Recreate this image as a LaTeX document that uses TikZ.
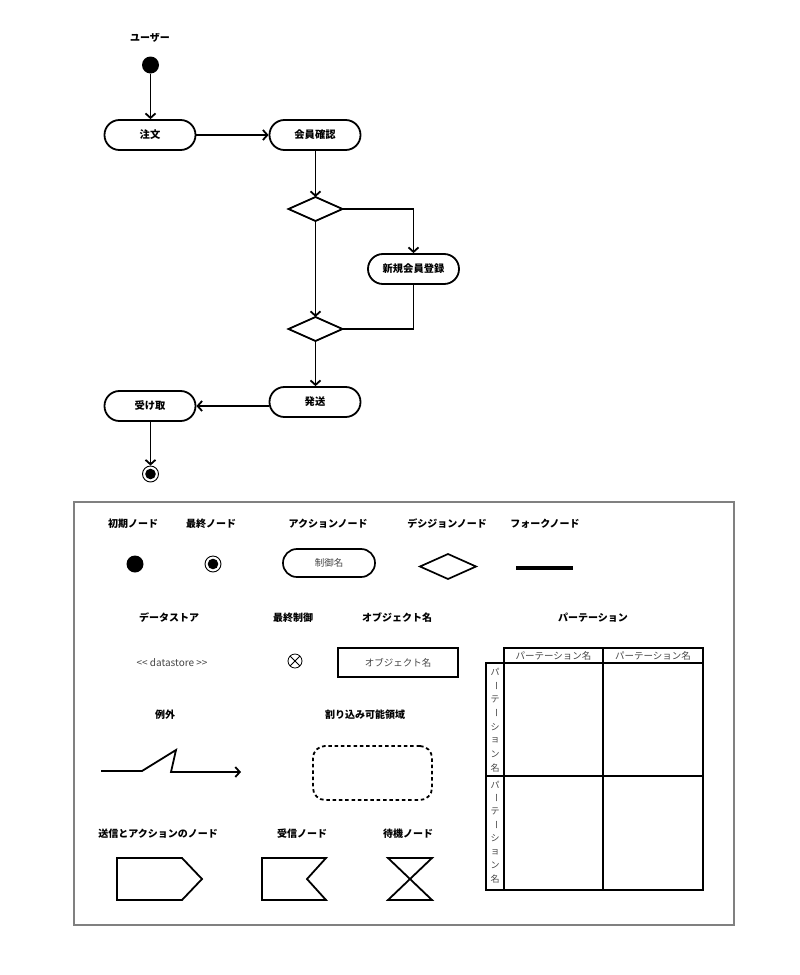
\documentclass[tikz,border=0pt]{standalone}
\usepackage{fontspec}
\setmainfont{Noto Sans CJK JP}
\newfontfamily\dsfont[Ligatures=TeXOff]{Noto Sans CJK JP}
\usetikzlibrary{arrows.meta,shapes.geometric}
\definecolor{txtgray}{HTML}{444444}
\begin{document}
\begin{tikzpicture}[x=1pt,y=-1pt,
  lbl/.style={font=\bfseries\fontsize{10}{12}\selectfont, inner sep=0pt},
  act/.style={draw, line width=1.8pt, rounded corners=14.9pt, minimum width=91pt, minimum height=30pt, inner sep=0pt, font=\bfseries\fontsize{10.3}{12}\selectfont},
  act2/.style={draw, line width=1.7pt, rounded corners=13.9pt, minimum width=92pt, minimum height=28pt, inner sep=0pt, font=\fontsize{9.5}{11}\selectfont, text=txtgray},
  dec/.style={draw, diamond, line width=1.8pt, minimum width=54pt, minimum height=24pt, inner sep=0pt, outer sep=0pt},
  initn/.style={circle, fill=black, minimum size=17pt, inner sep=0pt},
  finn/.style={circle, draw, line width=0.9pt, minimum size=16pt, inner sep=0pt,
     path picture={\fill (path picture bounding box.center) circle (5.3pt);}},
  arr/.style={line width=1.8pt, -{Straight Barb[length=4.5pt,width=10pt,line width=1.8pt]}},
  ln/.style={line width=1.8pt},
  txt/.style={font=\fontsize{9.5}{11}\selectfont, text=txtgray, inner sep=0pt},
  small/.style={font=\fontsize{9}{10}\selectfont, text=txtgray, inner sep=0pt}
]
\useasboundingbox (0,0) rectangle (800,975);

% ---------- flow ----------
\node[lbl] (user) at (150,38) {ユーザー};
\node[initn] (start) at (150.5,65) {};
\node[act] (order) at (150,135) {注文};
\node[act] (check) at (315,135) {会員確認};
\node[dec] (d1) at (315.5,209) {};
\node[act] (reg) at (413.5,269) {新規会員登録};
\node[dec] (d2) at (315.5,329) {};
\node[act] (ship) at (315,402) {発送};
\node[act] (recv) at (150,406) {受け取};
\node[finn] (end) at (150.5,474) {};

\draw[arr] (start) -- (order.north -| start);
\draw[arr] (order) -- (check);
\draw[arr] (check.south -| d1) -- (d1.north);
\draw[arr] (d1.east) -| (reg.north);
\draw[arr] (d1.south) -- (d2.north);
\draw[ln] (reg.south) |- (d2.east);
\draw[arr] (d2.south) -- (ship.north -| d2);
\draw[arr] (ship.west |- recv.east) -- (recv.east);
\draw[arr] (recv.south -| end) -- (end);

% ---------- legend ----------
\draw[line width=1.2pt, draw=gray] (74,502) rectangle (734,925);

% row 1
\node[lbl] (t1) at (133,524) {初期ノード};
\node[initn] (li) at (135,564) {};
\node[lbl] (t2) at (211,524) {最終ノード};
\node[finn] (lf) at (213,564) {};
\node[lbl] (t3) at (328,524) {アクションノード};
\node[act2] (la) at (329,563) {制御名};
\node[lbl] (t4) at (447,524) {デシジョンノード};
\node[dec, line width=1.7pt, minimum width=56pt, minimum height=25pt] (ld) at (448,566.5) {};
\node[lbl] (t5) at (545,524) {フォークノード};
\node[fill=black, minimum width=57pt, minimum height=4pt, inner sep=0pt] (lfork) at (544.5,568) {};

% row 2
\node[lbl] (t6) at (169,618) {データストア};
\node[lbl] (t7) at (293,618) {最終制御};
\node[lbl] (t8) at (397,618) {オブジェクト名};
\node[lbl] (t9) at (593,618) {パーテーション};
\node[txt, font=\dsfont\fontsize{10}{12}\selectfont] (ds) at (172,663) {<< datastore >>};
\node[circle, draw, line width=0.8pt, minimum size=14pt, inner sep=0pt,
  path picture={\draw[line width=0.8pt] (path picture bounding box.north west) -- (path picture bounding box.south east)
     (path picture bounding box.north east) -- (path picture bounding box.south west);}] (fc) at (295,661) {};
\node[draw, line width=1.7pt, minimum width=120pt, minimum height=29pt, txt] (obj) at (398,662.5) {オブジェクト名};

% partition table
\draw[ln] (504,648) rectangle (703,663);
\draw[ln] (603,648) -- (603,890);
\draw[ln] (504,663) rectangle (703,890);
\draw[ln] (486,663) rectangle (504,890);
\draw[ln] (486,776) -- (703,776);
\node[txt] (h1) at (553.5,656) {パーテーション名};
\node[txt] (h2) at (653,656) {パーテーション名};
\foreach \base/\sp in {672/13.7, 785/13.4} {
  \node[small] at (495,\base) {パ};
  \node[small, rotate=-90] at (495,\base+\sp) {ー};
  \node[small] at (495,\base+2*\sp) {テ};
  \node[small, rotate=-90] at (495,\base+3*\sp) {ー};
  \node[small] at (495,\base+4*\sp) {シ};
  \node[small] at (495,\base+5*\sp) {ョ};
  \node[small] at (495,\base+6*\sp) {ン};
  \node[small] at (495,\base+7*\sp) {名};
}

% row 3
\node[lbl] (t10) at (165,715) {例外};
\node[lbl] (t11) at (365,715) {割り込み可能領域};
\coordinate (e0) at (101,771);
\coordinate (e1) at (142,771);
\coordinate (e2) at (176,750);
\coordinate (e3) at (171,772);
\coordinate (e4) at (241,772);
\draw[arr, line join=miter] (e0) -- (e1) -- (e2) -- (e3) -- (e4);
\node[draw, line width=1.8pt, dash pattern=on 3.5pt off 2.8pt, rounded corners=12pt, minimum width=119pt, minimum height=54pt] (intr) at (372.5,773) {};

% row 4
\node[lbl] (t12) at (158,834) {送信とアクションのノード};
\node[lbl] (t13) at (302,834) {受信ノード};
\node[lbl] (t14) at (408,834) {待機ノード};
\draw[ln, line join=miter] (117,858) -- (182,858) -- (202,879) -- (182,900) -- (117,900) -- cycle;
\draw[ln, line join=miter] (262,858) -- (326,858) -- (307,879) -- (326,900) -- (262,900) -- cycle;
\draw[ln, line join=miter] (388,858) -- (432,858) -- (388,900) -- (432,900) -- cycle;
\end{tikzpicture}
\end{document}
